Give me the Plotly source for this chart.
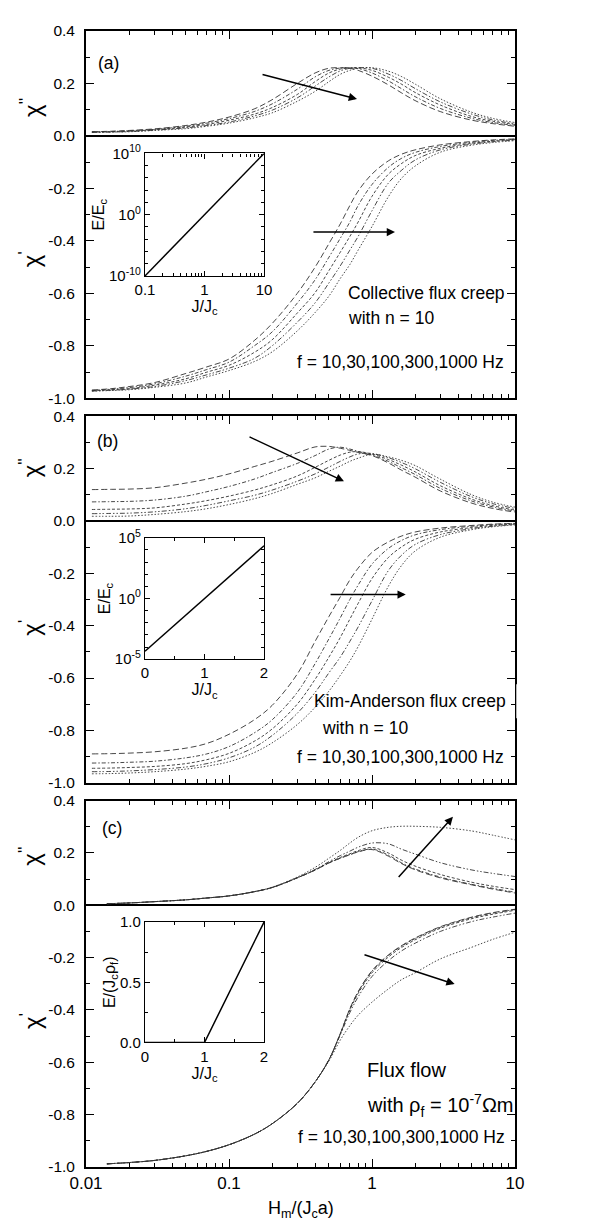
import plotly.graph_objects as go

# ---------------- data ----------------
H_ab = [0.011, 0.015, 0.02, 0.03, 0.05, 0.07, 0.1, 0.15, 0.2, 0.3, 0.4, 0.5, 0.6, 0.7, 0.8, 1.0, 1.3, 1.6, 2, 3, 5, 7, 10]
H_c = [0.014, 0.02, 0.03, 0.05, 0.07, 0.1, 0.15, 0.2, 0.3, 0.4, 0.5, 0.6, 0.7, 0.8, 1.0, 1.3, 1.6, 2, 3, 5, 7, 10]
freqs = ["10 Hz", "30 Hz", "100 Hz", "300 Hz", "1000 Hz"]

# (a) collective flux creep
a_chi2_10 = [0.016, 0.018, 0.021, 0.027, 0.040, 0.053, 0.072, 0.103, 0.138, 0.200, 0.240, 0.258, 0.260, 0.258, 0.250, 0.228, 0.195, 0.165, 0.135, 0.093, 0.060, 0.047, 0.037]
a_chi2_30 = [0.015, 0.017, 0.020, 0.025, 0.037, 0.049, 0.066, 0.093, 0.122, 0.178, 0.225, 0.250, 0.259, 0.260, 0.257, 0.240, 0.210, 0.181, 0.150, 0.105, 0.067, 0.051, 0.040]
a_chi2_100 = [0.015, 0.016, 0.018, 0.024, 0.034, 0.044, 0.060, 0.083, 0.108, 0.158, 0.207, 0.240, 0.255, 0.259, 0.260, 0.250, 0.224, 0.198, 0.166, 0.118, 0.074, 0.056, 0.044]
a_chi2_300 = [0.014, 0.015, 0.017, 0.022, 0.031, 0.040, 0.053, 0.076, 0.098, 0.145, 0.190, 0.225, 0.248, 0.258, 0.260, 0.258, 0.236, 0.212, 0.181, 0.130, 0.083, 0.061, 0.047]
a_chi2_1000 = [0.014, 0.015, 0.016, 0.021, 0.028, 0.037, 0.049, 0.069, 0.088, 0.132, 0.170, 0.207, 0.235, 0.250, 0.258, 0.260, 0.247, 0.227, 0.198, 0.142, 0.090, 0.067, 0.051]

a_chi1_10 = [-0.968, -0.963, -0.955, -0.940, -0.905, -0.880, -0.850, -0.780, -0.715, -0.600, -0.500, -0.410, -0.335, -0.265, -0.210, -0.145, -0.095, -0.070, -0.053, -0.034, -0.021, -0.015, -0.011]
a_chi1_30 = [-0.970, -0.965, -0.959, -0.945, -0.915, -0.890, -0.862, -0.800, -0.747, -0.637, -0.548, -0.462, -0.390, -0.328, -0.265, -0.185, -0.120, -0.086, -0.063, -0.040, -0.024, -0.017, -0.013]
a_chi1_100 = [-0.971, -0.967, -0.963, -0.950, -0.925, -0.900, -0.874, -0.825, -0.777, -0.675, -0.597, -0.513, -0.443, -0.383, -0.328, -0.230, -0.146, -0.106, -0.075, -0.047, -0.028, -0.020, -0.014]
a_chi1_300 = [-0.972, -0.969, -0.965, -0.955, -0.932, -0.910, -0.885, -0.848, -0.800, -0.710, -0.636, -0.560, -0.495, -0.435, -0.383, -0.285, -0.180, -0.132, -0.092, -0.053, -0.031, -0.022, -0.016]
a_chi1_1000 = [-0.972, -0.970, -0.967, -0.958, -0.941, -0.918, -0.894, -0.860, -0.823, -0.743, -0.673, -0.610, -0.543, -0.490, -0.435, -0.345, -0.232, -0.163, -0.115, -0.062, -0.035, -0.025, -0.018]

# (b) Kim-Anderson flux creep
b_chi2_10 = [0.120, 0.121, 0.122, 0.127, 0.145, 0.160, 0.180, 0.208, 0.228, 0.260, 0.283, 0.285, 0.278, 0.270, 0.262, 0.250, 0.222, 0.195, 0.168, 0.115, 0.068, 0.048, 0.034]
b_chi2_30 = [0.073, 0.074, 0.075, 0.080, 0.095, 0.112, 0.132, 0.160, 0.185, 0.220, 0.250, 0.275, 0.282, 0.275, 0.266, 0.252, 0.228, 0.204, 0.178, 0.125, 0.076, 0.054, 0.038]
b_chi2_100 = [0.044, 0.045, 0.046, 0.050, 0.065, 0.078, 0.095, 0.118, 0.138, 0.172, 0.205, 0.232, 0.252, 0.263, 0.265, 0.256, 0.235, 0.214, 0.188, 0.135, 0.083, 0.059, 0.042]
b_chi2_300 = [0.028, 0.029, 0.030, 0.035, 0.047, 0.060, 0.077, 0.098, 0.118, 0.152, 0.180, 0.206, 0.228, 0.245, 0.256, 0.258, 0.242, 0.224, 0.200, 0.148, 0.092, 0.066, 0.048]
b_chi2_1000 = [0.018, 0.018, 0.019, 0.025, 0.036, 0.047, 0.063, 0.085, 0.105, 0.140, 0.165, 0.190, 0.210, 0.228, 0.240, 0.255, 0.245, 0.232, 0.212, 0.160, 0.100, 0.072, 0.053]

b_chi1_10 = [-0.890, -0.889, -0.887, -0.882, -0.868, -0.850, -0.815, -0.760, -0.705, -0.585, -0.460, -0.365, -0.290, -0.225, -0.180, -0.120, -0.080, -0.058, -0.042, -0.027, -0.017, -0.012, -0.009]
b_chi1_30 = [-0.925, -0.924, -0.922, -0.918, -0.905, -0.890, -0.862, -0.810, -0.760, -0.655, -0.545, -0.450, -0.370, -0.300, -0.245, -0.165, -0.105, -0.075, -0.053, -0.033, -0.020, -0.014, -0.010]
b_chi1_100 = [-0.945, -0.944, -0.942, -0.938, -0.927, -0.912, -0.888, -0.842, -0.795, -0.700, -0.605, -0.520, -0.445, -0.375, -0.315, -0.220, -0.140, -0.100, -0.070, -0.042, -0.025, -0.017, -0.012]
b_chi1_300 = [-0.958, -0.957, -0.955, -0.950, -0.940, -0.927, -0.905, -0.865, -0.820, -0.735, -0.655, -0.580, -0.520, -0.460, -0.405, -0.305, -0.190, -0.132, -0.090, -0.052, -0.029, -0.020, -0.013]
b_chi1_1000 = [-0.966, -0.965, -0.963, -0.958, -0.948, -0.937, -0.920, -0.885, -0.848, -0.778, -0.712, -0.650, -0.590, -0.535, -0.480, -0.375, -0.250, -0.172, -0.115, -0.062, -0.033, -0.022, -0.015]

# (c) flux flow
c_chi2_10 = [0.006, 0.009, 0.014, 0.021, 0.028, 0.036, 0.052, 0.068, 0.105, 0.135, 0.162, 0.180, 0.193, 0.204, 0.213, 0.188, 0.160, 0.136, 0.105, 0.078, 0.062, 0.047]
c_chi2_30 = [0.006, 0.009, 0.014, 0.021, 0.028, 0.036, 0.052, 0.068, 0.105, 0.135, 0.162, 0.180, 0.194, 0.205, 0.215, 0.192, 0.163, 0.139, 0.108, 0.080, 0.065, 0.050]
c_chi2_100 = [0.006, 0.009, 0.014, 0.021, 0.028, 0.036, 0.052, 0.068, 0.105, 0.135, 0.163, 0.183, 0.197, 0.209, 0.221, 0.200, 0.173, 0.150, 0.118, 0.088, 0.073, 0.060]
c_chi2_300 = [0.006, 0.009, 0.014, 0.021, 0.028, 0.036, 0.052, 0.068, 0.105, 0.137, 0.167, 0.190, 0.207, 0.222, 0.238, 0.235, 0.215, 0.196, 0.163, 0.135, 0.122, 0.110]
c_chi2_1000 = [0.006, 0.009, 0.014, 0.021, 0.028, 0.036, 0.052, 0.069, 0.108, 0.145, 0.180, 0.210, 0.238, 0.260, 0.285, 0.298, 0.302, 0.302, 0.298, 0.284, 0.268, 0.250]

c_chi1_10 = [-0.988, -0.983, -0.975, -0.957, -0.940, -0.915, -0.875, -0.835, -0.757, -0.675, -0.590, -0.490, -0.395, -0.330, -0.250, -0.190, -0.155, -0.125, -0.082, -0.045, -0.028, -0.015]
c_chi1_30 = [-0.988, -0.983, -0.975, -0.957, -0.940, -0.915, -0.875, -0.835, -0.757, -0.675, -0.590, -0.490, -0.397, -0.332, -0.252, -0.192, -0.157, -0.127, -0.084, -0.047, -0.030, -0.016]
c_chi1_100 = [-0.988, -0.983, -0.975, -0.957, -0.940, -0.915, -0.875, -0.835, -0.757, -0.675, -0.590, -0.492, -0.400, -0.337, -0.258, -0.198, -0.162, -0.132, -0.088, -0.051, -0.034, -0.019]
c_chi1_300 = [-0.988, -0.983, -0.975, -0.957, -0.940, -0.915, -0.875, -0.835, -0.757, -0.675, -0.590, -0.495, -0.410, -0.350, -0.272, -0.212, -0.175, -0.145, -0.100, -0.062, -0.045, -0.030]
c_chi1_1000 = [-0.988, -0.983, -0.975, -0.957, -0.940, -0.915, -0.875, -0.835, -0.757, -0.675, -0.595, -0.515, -0.460, -0.420, -0.370, -0.320, -0.285, -0.258, -0.205, -0.160, -0.130, -0.103]

# insets: E-J characteristics
ins_a_J = [0.1, 10]
ins_a_E = [1e-10, 1e10]
ins_b_J = [0, 2]
ins_b_E = [4.5e-5, 2.2e4]
ins_c_J = [0, 1, 2]
ins_c_E = [0, 0, 1]

# tick labels
main_yvals = [-1.0, -0.8, -0.6, -0.4, -0.2, 0.0, 0.2, 0.4]
main_ytext = ["-1.0", "-0.8", "-0.6", "-0.4", "-0.2", "0.0", "0.2", "0.4"]
main_xvals = [0.01, 0.1, 1, 10]
main_xtext = ["0.01", "0.1", "1", "10"]

# ---------------- figure ----------------
FONT = "Liberation Sans, Arial, Helvetica, sans-serif"
dashes = ["6px,3px", "4px,2px,1.5px,2px", "3px,2px", "5px,2px,1.5px,2px,1.5px,2px", "1.5px,1.8px"]
LC = "#333333"
LW = 0.9

fig = go.Figure()

panels = [
    ("x", "y", H_ab, [a_chi2_10, a_chi2_30, a_chi2_100, a_chi2_300, a_chi2_1000],
     [a_chi1_10, a_chi1_30, a_chi1_100, a_chi1_300, a_chi1_1000]),
    ("x2", "y2", H_ab, [b_chi2_10, b_chi2_30, b_chi2_100, b_chi2_300, b_chi2_1000],
     [b_chi1_10, b_chi1_30, b_chi1_100, b_chi1_300, b_chi1_1000]),
    ("x3", "y3", H_c, [c_chi2_10, c_chi2_30, c_chi2_100, c_chi2_300, c_chi2_1000],
     [c_chi1_10, c_chi1_30, c_chi1_100, c_chi1_300, c_chi1_1000]),
]
for xa, ya, H, chi2s, chi1s in panels:
    for i in range(5):
        for ys in (chi2s[i], chi1s[i]):
            fig.add_trace(go.Scatter(x=H, y=ys, xaxis=xa, yaxis=ya, mode="lines",
                                     line=dict(color=LC, width=LW, dash=dashes[i], shape="spline", smoothing=1.0),
                                     name=freqs[i], showlegend=False, hoverinfo="skip"))

for xa, ya, J, E in [("x4", "y4", ins_a_J, ins_a_E), ("x5", "y5", ins_b_J, ins_b_E), ("x6", "y6", ins_c_J, ins_c_E)]:
    fig.add_trace(go.Scatter(x=J, y=E, xaxis=xa, yaxis=ya, mode="lines",
                             line=dict(color="black", width=1.5), showlegend=False, hoverinfo="skip"))

# label that runs under the right axis, as in the original
fig.add_trace(go.Scatter(x=[0.393], y=[-0.695], xaxis="x2", yaxis="y2", mode="text",
                         text=["Kim-Anderson flux creep"], textposition="middle right",
                         textfont=dict(family=FONT, size=17.5, color="black"),
                         cliponaxis=True, showlegend=False, hoverinfo="skip"))

minor_log_main = [m * d for d in (0.01, 0.1, 1) for m in range(2, 10)]

def main_x(anchor, labels):
    return dict(type="log", range=[-2, 1], domain=[0, 1], anchor=anchor,
                showline=True, linecolor="black", linewidth=1.8, mirror="ticks",
                ticks="inside", ticklen=8, tickwidth=1.4, tickcolor="black",
                tickmode="array", tickvals=main_xvals, ticktext=main_xtext,
                showticklabels=labels, showgrid=False, zeroline=False,
                tickfont=dict(family=FONT, size=17, color="black"),
                minor=dict(ticks="inside", ticklen=4, tickwidth=1.1, tickcolor="black",
                           tickmode="array", tickvals=minor_log_main, showgrid=False))

def main_y(anchor, dom):
    return dict(range=[-1.0, 0.4], domain=dom, anchor=anchor,
                showline=True, linecolor="black", linewidth=1.8, mirror="ticks",
                ticks="inside", ticklen=8, tickwidth=1.4, tickcolor="black",
                tickmode="array", tickvals=main_yvals, ticktext=main_ytext,
                ticklabelstandoff=6,
                showgrid=False, zeroline=True, zerolinecolor="black", zerolinewidth=2,
                tickfont=dict(family=FONT, size=15.5, color="black"),
                minor=dict(ticks="inside", ticklen=4, tickwidth=1.1, tickcolor="black",
                           tickmode="array", tickvals=[-0.9, -0.7, -0.5, -0.3, -0.1, 0.1, 0.3], showgrid=False))

ins_common = dict(showline=True, linecolor="black", linewidth=1.3, mirror="ticks",
                  ticks="inside", ticklen=5, tickwidth=1, tickcolor="black",
                  showgrid=False, zeroline=False,
                  tickfont=dict(family=FONT, size=15, color="black"))
ins_minor = dict(ticks="inside", ticklen=3, tickwidth=0.8, tickcolor="black", showgrid=False)
ins_xdom = [0.1375, 0.415]
ins_title_font = dict(family=FONT, size=16, color="black")

layout = dict(
    width=598, height=1219,
    margin=dict(l=78, r=91, t=18, b=60),
    paper_bgcolor="white", plot_bgcolor="white",
    showlegend=False,
    font=dict(family=FONT, color="black"),
    xaxis=main_x("y", False), yaxis=main_y("x", [0.6766, 1.0]),
    xaxis2=main_x("y2", False), yaxis2=main_y("x2", [0.3383, 0.6608]),
    xaxis3=main_x("y3", True), yaxis3=main_y("x3", [0.0, 0.3225]),
    # inset (a)
    xaxis4=dict(ins_common, type="log", range=[-1, 1], domain=ins_xdom, anchor="y4",
                tickmode="array", tickvals=[0.1, 1, 10], ticktext=["0.1", "1", "10"],
                minor=dict(ins_minor, tickmode="array", tickvals=[m * d for d in (0.1, 1) for m in range(2, 10)]),
                title=dict(text="J/J<sub>c</sub>", font=ins_title_font, standoff=2)),
    yaxis4=dict(ins_common, type="log", range=[-10, 10], domain=[0.7844, 0.8922], anchor="x4",
                tickmode="array", tickvals=[1e-10, 1, 1e10],
                ticktext=["10<sup>-10</sup>", "10<sup>0</sup>", "10<sup>10</sup>"],
                minor=dict(ins_minor, tickmode="array", tickvals=[10.0 ** k for k in (-8, -6, -4, -2, 2, 4, 6, 8)]),
                title=dict(text="E/E<sub>c</sub>", font=ins_title_font, standoff=0)),
    # inset (b)
    xaxis5=dict(ins_common, range=[0, 2], domain=ins_xdom, anchor="y5",
                tickmode="array", tickvals=[0, 1, 2], ticktext=["0", "1", "2"],
                minor=dict(ins_minor, tickmode="array", tickvals=[0.5, 1.5]),
                title=dict(text="J/J<sub>c</sub>", font=ins_title_font, standoff=2)),
    yaxis5=dict(ins_common, type="log", range=[-5, 5], domain=[0.4470, 0.5539], anchor="x5",
                tickmode="array", tickvals=[1e-5, 1, 1e5],
                ticktext=["10<sup>-5</sup>", "10<sup>0</sup>", "10<sup>5</sup>"],
                minor=dict(ins_minor, tickmode="array", tickvals=[10.0 ** k for k in (-4, -3, -2, -1, 1, 2, 3, 4)]),
                title=dict(text="E/E<sub>c</sub>", font=ins_title_font, standoff=0)),
    # inset (c)
    xaxis6=dict(ins_common, range=[0, 2], domain=ins_xdom, anchor="y6",
                tickmode="array", tickvals=[0, 1, 2], ticktext=["0", "1", "2"],
                minor=dict(ins_minor, tickmode="array", tickvals=[0.5, 1.5]),
                title=dict(text="J/J<sub>c</sub>", font=ins_title_font, standoff=2)),
    yaxis6=dict(ins_common, range=[0, 1], domain=[0.1096, 0.2156], anchor="x6",
                tickmode="array", tickvals=[0, 0.5, 1.0], ticktext=["0.0", "0.5", "1.0"],
                minor=dict(ins_minor, tickmode="array", tickvals=[0.25, 0.75]),
                title=dict(text="E/(J<sub>c</sub>ρ<sub>f</sub>)", font=ins_title_font, standoff=0)),
)
fig.update_layout(**layout)

# white mask right of panel (b) so the long label appears cut by the frame
fig.add_shape(type="rect", xref="paper", yref="paper", x0=1.003, x1=1.08, y0=0.395, y1=0.425,
              fillcolor="white", line=dict(width=0), layer="above")

ann = []
TF = dict(family=FONT, size=17.5, color="black")
# panel letters
for txt, xp, yp in [("(a)", 0.0536, 0.9720), ("(b)", 0.049, 0.6389), ("(c)", 0.0606, 0.298)]:
    ann.append(dict(text=txt, x=xp, y=yp, xref="paper", yref="paper", xanchor="center", yanchor="middle",
                    showarrow=False, font=TF))
# y labels
for txt, yp in [("χ<sup>''</sup>", 0.9325), ("χ<sup>'</sup>", 0.7993),
                ("χ<sup>''</sup>", 0.6152), ("χ<sup>'</sup>", 0.4750),
                ("χ<sup>''</sup>", 0.2734), ("χ<sup>'</sup>", 0.1288)]:
    ann.append(dict(text=txt, x=-0.13, y=yp, xref="paper", yref="paper", xanchor="center", yanchor="middle",
                    textangle=-90, showarrow=False, font=dict(family=FONT, size=24, color="black")))
# descriptive texts
ann += [
    dict(text="Collective flux creep", x=0.606, y=0.7695, xanchor="left"),
    dict(text="with n = 10", x=0.606, y=0.7476, xanchor="left"),
    dict(text="f = 10,30,100,300,1000 Hz", x=0.979, y=0.709, xanchor="right"),
    dict(text="with n = 10", x=0.5455, y=0.3861, xanchor="left"),
    dict(text="f = 10,30,100,300,1000 Hz", x=0.979, y=0.3611, xanchor="right"),
    dict(text="f = 10,30,100,300,1000 Hz", x=0.981, y=0.0263, xanchor="right"),
]
for a in ann[-6:]:
    a.update(xref="paper", yref="paper", yanchor="middle", showarrow=False, font=TF)
ann += [
    dict(text="Flux flow", x=0.650, y=0.085, xref="paper", yref="paper", xanchor="left", yanchor="middle",
         showarrow=False, font=dict(family=FONT, size=20, color="black")),
    dict(text="with ρ<sub>f</sub> = 10<sup>-7</sup>Ωm", x=0.650, y=0.0543, xref="paper", yref="paper",
         xanchor="left", yanchor="middle", showarrow=False, font=dict(family=FONT, size=20, color="black")),
    dict(text="H<sub>m</sub>/(J<sub>c</sub>a)", x=0.502, y=-0.037, xref="paper", yref="paper",
         xanchor="center", yanchor="middle", showarrow=False, font=dict(family=FONT, size=18, color="black")),
]
# arrows (log10 of H for x)
arrows = [
    ("x", "y", -0.776, 0.236, -0.105, 0.141),
    ("x", "y", -0.42, -0.366, 0.161, -0.366),
    ("x2", "y2", -0.867, 0.324, -0.196, 0.152),
    ("x2", "y2", -0.30, -0.281, 0.236, -0.281),
    ("x3", "y3", 0.177, 0.102, 0.566, 0.338),
    ("x3", "y3", -0.063, -0.187, 0.578, -0.301),
]
for xa, ya, x0, y0, x1, y1 in arrows:
    ann.append(dict(x=x1, y=y1, ax=x0, ay=y0, xref=xa, yref=ya, axref=xa, ayref=ya, text="",
                    showarrow=True, arrowhead=2, arrowsize=1.1, arrowwidth=1.5, arrowcolor="black", standoff=0))
fig.update_layout(annotations=ann)

fig.write_html("out.html")
